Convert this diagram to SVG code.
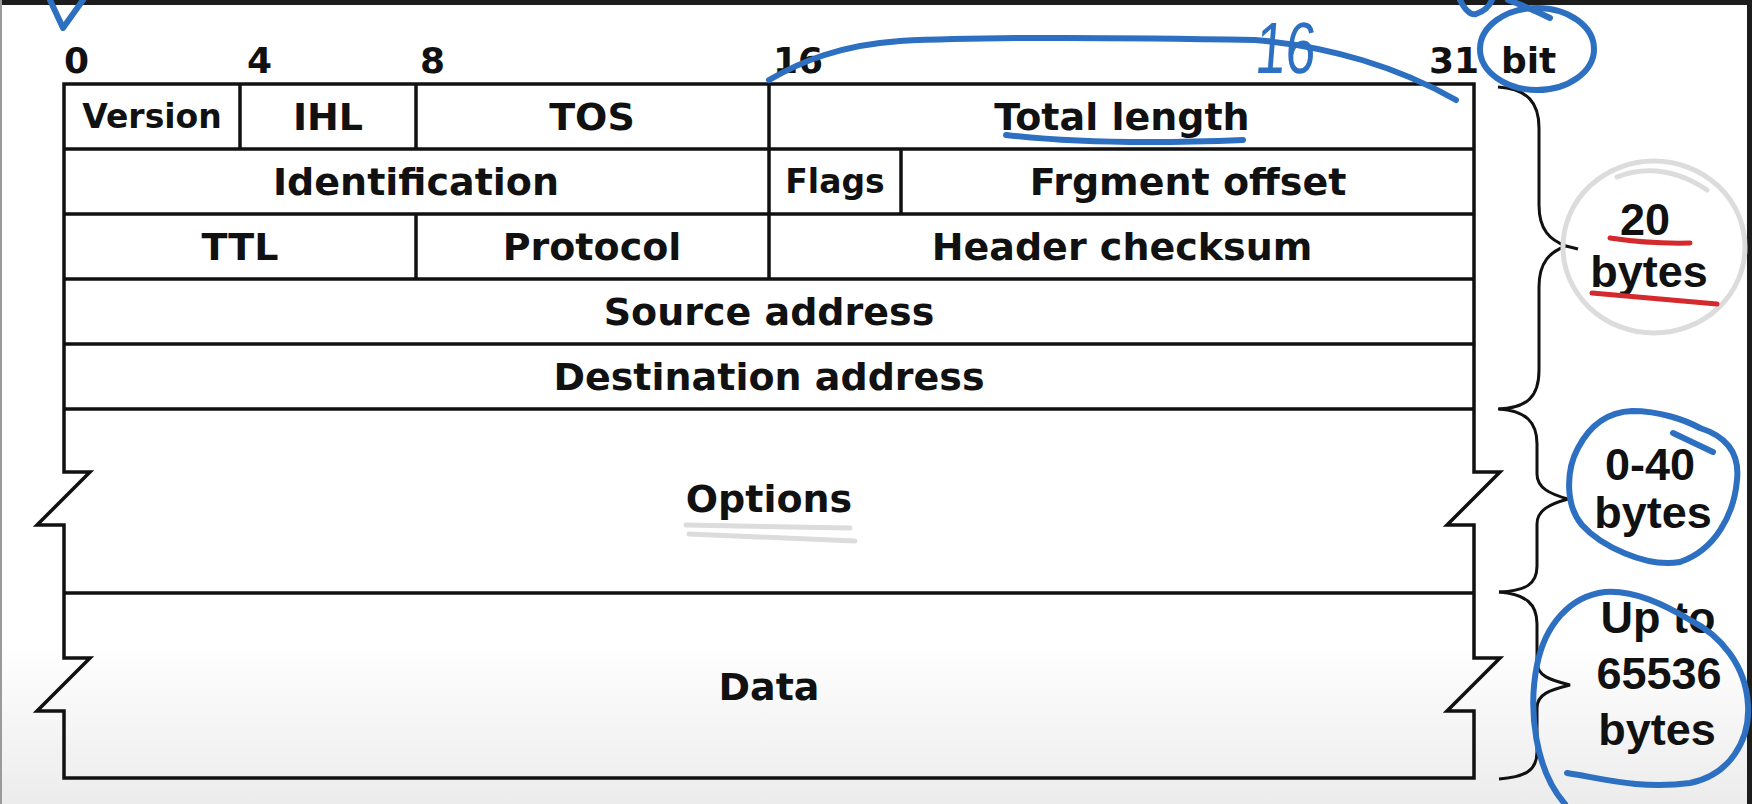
<svg xmlns="http://www.w3.org/2000/svg" width="1752" height="804" viewBox="0 0 1752 804">
<style>
.ln{fill:none;stroke:#111;stroke-width:3.5;stroke-linejoin:miter}
.lb{font-family:"DejaVu Sans",Verdana,sans-serif;font-weight:bold;font-size:38px;fill:#111;text-anchor:middle}
.sm{font-size:33px}
.bt{font-family:"DejaVu Sans",Verdana,sans-serif;font-weight:bold;font-size:36px;fill:#111}
.rt{font-family:"Liberation Sans",Arial,sans-serif;font-weight:bold;font-size:45px;fill:#111;text-anchor:middle}
.br{fill:none;stroke:#111;stroke-width:3}
.blue{fill:none;stroke:#2d6fc1;stroke-width:6;stroke-linecap:round;stroke-linejoin:round}
.gray{fill:none;stroke:#dcdcdc;stroke-width:5;stroke-linecap:round}
.red{fill:none;stroke:#d42a2e;stroke-width:5;stroke-linecap:round}
</style>
<defs>
<linearGradient id="bg" x1="0" y1="0" x2="0" y2="1">
<stop offset="0" stop-color="#ffffff"/>
<stop offset="0.8" stop-color="#ffffff"/>
<stop offset="1" stop-color="#ececec"/>
</linearGradient>
</defs>
<rect x="0" y="0" width="1752" height="804" fill="url(#bg)"/>
<rect x="0" y="0" width="1752" height="5" fill="#1c1c1c"/>
<rect x="1747" y="0" width="5" height="804" fill="#1c1c1c"/>
<rect x="0" y="0" width="2" height="804" fill="#9a9a9a"/>

<g id="bit-scale">
<text class="bt" x="64" y="73">0</text>
<text class="bt" x="247" y="73">4</text>
<text class="bt" x="420" y="73">8</text>
<text class="bt" x="773" y="73">16</text>
<text class="bt" x="1479" y="73" text-anchor="end">31</text>
<text class="bt" x="1501" y="73">bit</text>
</g>

<g id="table-frame">
<path class="ln" d="M64,84 H1474 V472 H1500 L1447,525 H1474 V658 H1500 L1447,711 H1474 V778 H64 V711 H37 L90,658 H64 V525 H37 L90,472 H64 Z"/>
<path class="ln" d="M64,149 H1474 M64,214 H1474 M64,279 H1474 M64,344 H1474 M64,409 H1474 M64,593 H1474"/>
</g>

<g id="version"><path class="ln" d="M240,84 V149"/><text class="lb sm" x="152" y="128">Version</text></g>
<g id="ihl"><path class="ln" d="M416,84 V149"/><text class="lb" x="328" y="130">IHL</text></g>
<g id="tos"><path class="ln" d="M769,84 V149"/><text class="lb" x="592" y="130">TOS</text></g>
<g id="total-length"><text class="lb" x="1122" y="130">Total length</text></g>
<g id="identification"><path class="ln" d="M769,149 V214"/><text class="lb" x="416" y="195">Identification</text></g>
<g id="flags"><path class="ln" d="M901,149 V214"/><text class="lb sm" x="835" y="193">Flags</text></g>
<g id="fragment-offset"><text class="lb" x="1188" y="195">Frgment offset</text></g>
<g id="ttl"><path class="ln" d="M416,214 V279"/><text class="lb" x="240" y="260">TTL</text></g>
<g id="protocol"><path class="ln" d="M769,214 V279"/><text class="lb" x="592" y="260">Protocol</text></g>
<g id="header-checksum"><text class="lb" x="1122" y="260">Header checksum</text></g>
<g id="source-address"><text class="lb" x="769" y="325">Source address</text></g>
<g id="destination-address"><text class="lb" x="769" y="390">Destination address</text></g>
<g id="options"><text class="lb" x="769" y="512">Options</text></g>
<g id="data"><text class="lb" x="769" y="700">Data</text></g>

<g id="connectors">
<path class="br" d="M1498,87 C1528,89 1539,103 1539,128 L1539,205 C1539,230 1550,240 1566,246 M1566,246 L1578,249 M1566,246 C1550,252 1539,262 1539,287 L1539,370 C1539,396 1528,408 1498,409"/>
<path class="br" d="M1499,409 C1526,411 1537,422 1537,444 L1537,474 C1537,488 1550,494 1568,499 C1550,504 1537,510 1537,524 L1537,566 C1537,584 1526,591 1499,592"/>
<path class="br" d="M1499,592 C1526,594 1537,604 1537,624 L1537,662 C1537,676 1550,680 1570,685 C1550,690 1537,694 1537,708 L1537,752 C1537,770 1526,777 1499,779"/>
</g>

<g id="label-20-bytes">
<text class="rt" x="1645" y="235">20</text>
<text class="rt" x="1649" y="287">bytes</text>
</g>
<g id="label-0-40-bytes">
<text class="rt" x="1650" y="480">0-40</text>
<text class="rt" x="1653" y="528">bytes</text>
</g>
<g id="label-up-to">
<text class="rt" x="1658" y="633">Up to</text>
<text class="rt" x="1659" y="689">65536</text>
<text class="rt" x="1657" y="745">bytes</text>
</g>

<g id="annotations">
<path class="gray" d="M686,525 L850,528 M689,534 L855,541"/>
<ellipse class="gray" cx="1654" cy="247" rx="91" ry="86"/>
<path class="gray" d="M1617,177 Q1662,160 1707,190"/>
<path class="red" d="M1610,238 Q1650,244 1690,243 M1592,293 Q1650,298 1717,304"/>
<path class="blue" d="M50,0 L63,28 L83,0"/>
<path class="blue" d="M769,80 C800,62 840,45 900,41 C1000,36 1150,38 1255,40 C1330,46 1400,68 1456,100"/>
<text x="0" y="0" transform="translate(1254,73) scale(1,1.35) skewX(-6)" font-family="Liberation Sans, Arial, sans-serif" font-size="54" fill="#2d6fc1">16</text>
<path class="blue" d="M1006,135 Q1100,146 1243,140"/>
<ellipse class="blue" cx="1537" cy="49" rx="57" ry="41"/>
<path class="blue" d="M1460,0 Q1468,16 1476,14 Q1488,10 1492,0 M1508,0 Q1530,8 1550,18"/>
<path class="blue" d="M1700,428 C1725,436 1740,452 1737,480 C1734,515 1715,550 1680,562 C1645,568 1600,545 1582,525 C1565,505 1566,470 1578,448 C1590,425 1608,412 1632,411 C1660,411 1685,420 1700,428 M1673,433 L1713,452"/>
<path class="blue" d="M1567,773 C1600,778 1640,790 1690,783 C1730,775 1750,740 1748,705 C1746,665 1720,635 1690,620 C1665,605 1635,590 1605,592 C1570,596 1545,625 1537,665 C1528,710 1535,770 1565,804"/>
</g>
</svg>
